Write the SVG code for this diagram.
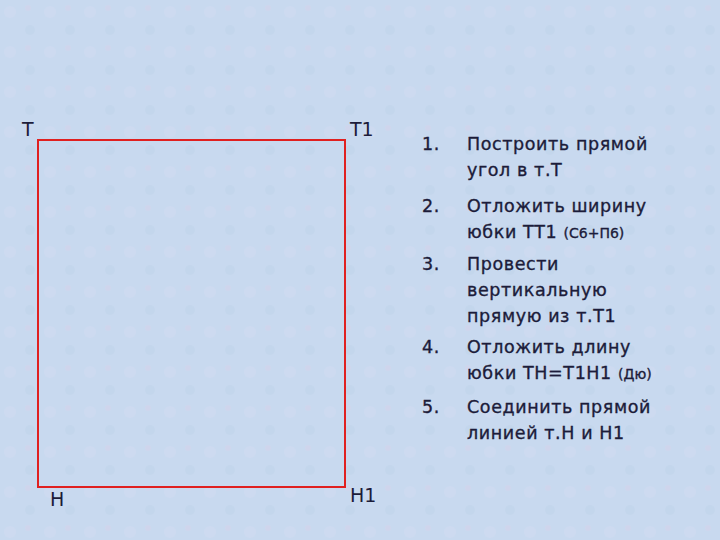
<svg xmlns="http://www.w3.org/2000/svg" width="720" height="540" viewBox="0 0 720 540">
<style>
text{font-family:"DejaVu Sans","Liberation Sans",sans-serif;fill:#1c1c3a}
.l{font-size:17.5px;letter-spacing:0.6px;stroke:#1c1c3a;stroke-width:0.35}
.s{font-size:14px;letter-spacing:0}
.p{font-size:19px}
</style>
<defs>
<pattern id="bg" width="40" height="40" patternUnits="userSpaceOnUse">
<rect width="40" height="40" fill="#c8d9ef"/>
<circle cx="10" cy="12" r="6" fill="#d0daf0" opacity="0.6"/>
<circle cx="30" cy="30" r="5" fill="#bfd3ea" opacity="0.6"/>
<circle cx="28" cy="8" r="3" fill="#d6d2ea" opacity="0.5"/>
</pattern>
</defs>
<rect width="720" height="540" fill="url(#bg)"/>
<g id="connectors">
<rect x="38" y="140" width="307" height="347" fill="none" stroke="#e02020" stroke-width="2"/>
</g>
<g id="labels">
<text class="p" x="22" y="136">Т</text>
<text class="p" x="350" y="136">Т1</text>
<text class="p" x="50" y="506">Н</text>
<text class="p" x="350" y="502">Н1</text>
</g>
<g id="steps">
<text class="l" x="422" y="150">1.</text>
<text class="l" x="467" y="150">Построить прямой</text>
<text class="l" x="467" y="176">угол в т.Т</text>
<text class="l" x="422" y="212">2.</text>
<text class="l" x="467" y="212">Отложить ширину</text>
<text class="l" x="467" y="238">юбки ТТ1 <tspan class="s">(С6+П6)</tspan></text>
<text class="l" x="422" y="270">3.</text>
<text class="l" x="467" y="270">Провести</text>
<text class="l" x="467" y="296">вертикальную</text>
<text class="l" x="467" y="322">прямую из т.Т1</text>
<text class="l" x="422" y="353">4.</text>
<text class="l" x="467" y="353">Отложить длину</text>
<text class="l" x="467" y="379">юбки ТН=Т1Н1 <tspan class="s">(Дю)</tspan></text>
<text class="l" x="422" y="413">5.</text>
<text class="l" x="467" y="413">Соединить прямой</text>
<text class="l" x="467" y="439">линией т.Н и Н1</text>
</g>
</svg>
